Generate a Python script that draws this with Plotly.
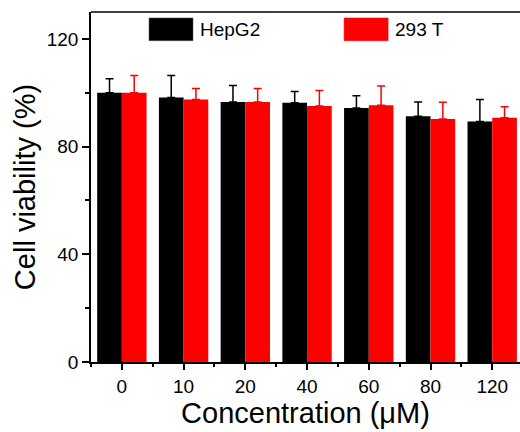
import plotly.graph_objects as go

concentrations = ["0", "10", "20", "40", "60", "80", "120"]
hepg2 = [100.0, 98.2, 96.6, 96.3, 94.3, 91.3, 89.3]
hepg2_err = [5.2, 8.2, 6.1, 4.2, 4.6, 5.3, 8.2]
t293 = [100.0, 97.5, 96.6, 95.1, 95.4, 90.3, 90.7]
t293_err = [6.4, 4.1, 5.0, 5.7, 7.1, 6.2, 4.1]
series_names = ["HepG2", "293 T"]

FONT = "Arial, Liberation Sans, sans-serif"
xpos = list(range(len(concentrations)))

fig = go.Figure()
fig.add_trace(go.Bar(
    x=xpos, y=hepg2, name=series_names[0], marker_color="#000000",
    marker_line_width=0,
    error_y=dict(type="data", array=hepg2_err, arrayminus=[0]*len(hepg2),
                 symmetric=False, color="#000000", thickness=1.5, width=4),
    showlegend=False,
))
fig.add_trace(go.Bar(
    x=xpos, y=t293, name=series_names[1], marker_color="#ff0000",
    marker_line_width=0,
    error_y=dict(type="data", array=t293_err, arrayminus=[0]*len(t293),
                 symmetric=False, color="#ff0000", thickness=1.5, width=4),
    showlegend=False,
))

# manual legend
legend_items = [(series_names[0], "#000000", 0.1352), (series_names[1], "#ff0000", 0.590)]
for name, col, x0 in legend_items:
    fig.add_shape(type="rect", xref="paper", yref="paper",
                  x0=x0, x1=x0 + 0.1026, y0=0.918, y1=0.983,
                  fillcolor=col, line=dict(color="#555555" if col == "#000000" else col, width=0.5))
    fig.add_annotation(xref="paper", yref="paper", x=x0 + 0.1026 + 0.012, y=0.951,
                       text=name, showarrow=False, xanchor="left", yanchor="middle",
                       font=dict(family=FONT, size=19, color="#000000"))

# top border
fig.add_shape(type="line", xref="paper", yref="paper", x0=0, x1=1, y0=1, y1=1,
              line=dict(color="#000000", width=1.5))

fig.update_layout(
    width=520, height=432,
    margin=dict(l=91, r=0, t=12, b=70),
    paper_bgcolor="white", plot_bgcolor="white",
    barmode="group", bargap=0.2, bargroupgap=0,
    font=dict(family=FONT, color="#000000"),
    xaxis=dict(
        range=[-0.5, 6.45], tickmode="array", tickvals=xpos, ticktext=concentrations,
        showline=True, linecolor="#000000", linewidth=1.5,
        ticks="outside", ticklen=6, tickwidth=1.5, tickcolor="#000000",
        minor=dict(tickmode="array", tickvals=[i + 0.5 for i in xpos] + [-0.5],
                   ticks="outside", ticklen=3, tickwidth=1.5, tickcolor="#000000"),
        showgrid=False, zeroline=False,
        tickfont=dict(family=FONT, size=19, color="#000000"),
        title=dict(text="Concentration (μM)", font=dict(family=FONT, size=29, color="#000000"),
                   standoff=4),
    ),
    yaxis=dict(
        range=[0, 130], tickmode="linear", tick0=0, dtick=40,
        showline=True, linecolor="#000000", linewidth=1.5,
        ticks="outside", ticklen=7, tickwidth=1.5, tickcolor="#000000",
        minor=dict(tickmode="linear", tick0=0, dtick=20, ticks="outside", ticklen=4,
                   tickwidth=1.5, tickcolor="#000000"),
        showgrid=False, zeroline=False,
        tickfont=dict(family=FONT, size=19, color="#000000"),
        title=dict(text="Cell viability (%)", font=dict(family=FONT, size=29, color="#000000"),
                   standoff=3),
    ),
)

fig.write_html("out.html")
